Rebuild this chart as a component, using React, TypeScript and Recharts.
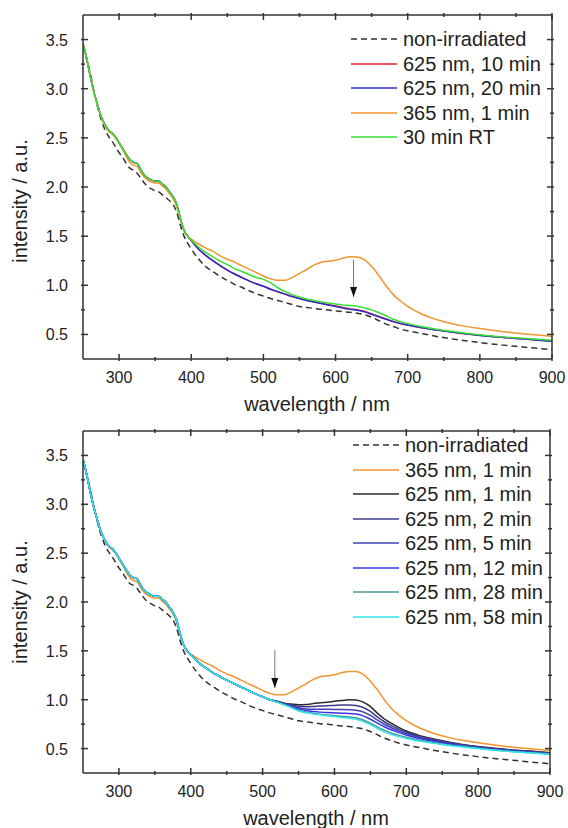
import { LineChart, Line, XAxis, YAxis, Legend, ReferenceLine, ReferenceDot } from "recharts"

const FONT = '"Liberation Sans", Arial, Helvetica, sans-serif'
const AXIS = "#333"

// wavelength grid (nm)
const wl = [
  250, 255, 260, 265, 270, 275, 280, 285, 290, 295, 300, 305, 310, 315, 320, 325, 330, 335, 340, 345,
  350, 355, 360, 365, 370, 375, 380, 385, 390, 395, 400,
  410, 420, 430, 440, 450, 460, 470, 480, 490, 500, 510, 520, 530, 540, 550, 560, 570, 580, 590, 600,
  610, 620, 630, 640, 650, 660, 670, 680, 690, 700,
  720, 740, 760, 780, 800, 820, 840, 860, 880, 900,
]

const xTicks = [300, 350, 400, 450, 500, 550, 600, 650, 700, 750, 800, 850, 900]
const yTicks = [0.5, 0.75, 1, 1.25, 1.5, 1.75, 2, 2.25, 2.5, 2.75, 3, 3.25, 3.5]

const nonIrradiated = [
  3.43, 3.3, 3.16, 2.98, 2.82, 2.69, 2.59, 2.52, 2.47, 2.41, 2.35, 2.3, 2.24, 2.19, 2.17, 2.14, 2.09, 2.04, 2.0, 1.98,
  1.96, 1.95, 1.92, 1.89, 1.86, 1.82, 1.74, 1.61, 1.5, 1.43, 1.37,
  1.27, 1.19, 1.14, 1.09, 1.05, 1.01, 0.98, 0.945, 0.915, 0.89, 0.865, 0.845, 0.825, 0.805, 0.785, 0.775, 0.765, 0.755, 0.748, 0.74,
  0.732, 0.725, 0.715, 0.7, 0.675, 0.64, 0.605, 0.58, 0.555, 0.537,
  0.508, 0.48, 0.456, 0.435, 0.417, 0.4, 0.386, 0.372, 0.358, 0.345,
]

// 250-395 nm, irradiated samples
const uvHead = [
  3.46, 3.31, 3.13, 2.97, 2.84, 2.72, 2.64, 2.58, 2.55, 2.51, 2.45, 2.39, 2.33, 2.28, 2.25, 2.24, 2.175, 2.12, 2.09, 2.07,
  2.06, 2.06, 2.03, 2.0, 1.95, 1.9, 1.82, 1.68, 1.56, 1.5,
]
const uv365Head = [
  3.46, 3.31, 3.13, 2.97, 2.84, 2.72, 2.63, 2.57, 2.54, 2.5, 2.44, 2.38, 2.31, 2.25, 2.22, 2.21, 2.15, 2.1, 2.07, 2.05,
  2.04, 2.04, 2.01, 1.98, 1.93, 1.88, 1.8, 1.67, 1.56, 1.5,
]

// 400-900 nm
const uv365Tail = [
  1.47, 1.42, 1.38, 1.345, 1.3, 1.265, 1.235, 1.2, 1.165, 1.13, 1.095, 1.065, 1.05, 1.05, 1.08, 1.12, 1.16, 1.205, 1.235, 1.245,
  1.255, 1.275, 1.29, 1.288, 1.26, 1.19, 1.1, 0.995, 0.905, 0.84, 0.785,
  0.705, 0.652, 0.612, 0.582, 0.56, 0.54, 0.522, 0.507, 0.494, 0.48,
]
const red10Tail = [
  1.455, 1.37, 1.305, 1.25, 1.2, 1.155, 1.115, 1.08, 1.045, 1.015, 0.99, 0.96, 0.935, 0.91, 0.885, 0.865, 0.847, 0.832, 0.818, 0.803,
  0.789, 0.775, 0.76, 0.75, 0.735, 0.708, 0.682, 0.657, 0.632, 0.612, 0.597,
  0.568, 0.546, 0.526, 0.507, 0.491, 0.477, 0.466, 0.455, 0.443, 0.431,
]
const blue20Tail = [
  1.455, 1.37, 1.305, 1.25, 1.2, 1.155, 1.115, 1.08, 1.045, 1.015, 0.99, 0.96, 0.935, 0.91, 0.885, 0.865, 0.845, 0.83, 0.815, 0.8,
  0.785, 0.77, 0.755, 0.745, 0.73, 0.705, 0.68, 0.655, 0.63, 0.61, 0.595,
  0.567, 0.545, 0.525, 0.506, 0.49, 0.476, 0.465, 0.454, 0.442, 0.43,
]
const rt30Tail = [
  1.46, 1.39, 1.335, 1.29, 1.245, 1.21, 1.17, 1.14, 1.11, 1.08, 1.06, 1.025, 0.975, 0.935, 0.905, 0.88, 0.86, 0.845, 0.83, 0.82,
  0.81, 0.8, 0.795, 0.787, 0.77, 0.75, 0.72, 0.69, 0.655, 0.63, 0.61,
  0.578, 0.553, 0.532, 0.513, 0.497, 0.482, 0.47, 0.46, 0.45, 0.44,
]

// bottom panel, 400-510 nm (all 625 nm curves coincide)
const fadeHead = [1.46, 1.385, 1.33, 1.28, 1.24, 1.2, 1.165, 1.13, 1.095, 1.06, 1.03, 1.0]
// 520-900 nm
const m1Tail = [
  0.985, 0.965, 0.955, 0.948, 0.95, 0.96, 0.97, 0.975, 0.985, 0.992, 1.0, 0.998, 0.975, 0.93, 0.86, 0.8, 0.755, 0.715, 0.68,
  0.63, 0.595, 0.565, 0.54, 0.52, 0.505, 0.49, 0.48, 0.47, 0.457,
]
const m2Tail = [
  0.983, 0.962, 0.945, 0.932, 0.927, 0.93, 0.935, 0.938, 0.942, 0.945, 0.945, 0.94, 0.92, 0.88, 0.822, 0.772, 0.732, 0.697, 0.667,
  0.622, 0.587, 0.56, 0.536, 0.517, 0.501, 0.487, 0.476, 0.465, 0.453,
]
const m5Tail = [
  0.98, 0.958, 0.937, 0.918, 0.906, 0.903, 0.903, 0.902, 0.901, 0.9, 0.898, 0.892, 0.875, 0.84, 0.79, 0.746, 0.711, 0.681, 0.654,
  0.611, 0.579, 0.554, 0.531, 0.513, 0.497, 0.483, 0.472, 0.462, 0.45,
]
const m12Tail = [
  0.978, 0.954, 0.93, 0.906, 0.89, 0.88, 0.873, 0.868, 0.865, 0.862, 0.86, 0.853, 0.835, 0.8, 0.76, 0.721, 0.69, 0.664, 0.639,
  0.601, 0.571, 0.547, 0.526, 0.508, 0.493, 0.479, 0.468, 0.458, 0.447,
]
const m28Tail = [
  0.976, 0.95, 0.923, 0.893, 0.874, 0.862, 0.852, 0.843, 0.836, 0.83, 0.825, 0.815, 0.792, 0.76, 0.72, 0.686, 0.656, 0.635, 0.615,
  0.583, 0.558, 0.537, 0.52, 0.503, 0.488, 0.474, 0.464, 0.454, 0.443,
]
const m58Tail = [
  0.975, 0.947, 0.917, 0.884, 0.866, 0.855, 0.845, 0.836, 0.827, 0.818, 0.81, 0.8, 0.776, 0.745, 0.705, 0.671, 0.643, 0.622, 0.603,
  0.575, 0.552, 0.532, 0.515, 0.5, 0.485, 0.472, 0.462, 0.452, 0.442,
]

const topOrder = ["non-irradiated", "625 nm, 10 min", "625 nm, 20 min", "365 nm, 1 min", "30 min RT"]
const bottomOrder = [
  "non-irradiated", "365 nm, 1 min", "625 nm, 1 min", "625 nm, 2 min", "625 nm, 5 min",
  "625 nm, 12 min", "625 nm, 28 min", "625 nm, 58 min",
]

const uv365 = [...uv365Head, ...uv365Tail]

const topData = wl.map((w, i) => ({
  wl: w,
  non: nonIrradiated[i],
  r10: [...uvHead, ...red10Tail][i],
  b20: [...uvHead, ...blue20Tail][i],
  uv: uv365[i],
  rt: [...uvHead, ...rt30Tail][i],
}))

const bottomData = wl.map((w, i) => ({
  wl: w,
  non: nonIrradiated[i],
  uv: uv365[i],
  m1: [...uvHead, ...fadeHead, ...m1Tail][i],
  m2: [...uvHead, ...fadeHead, ...m2Tail][i],
  m5: [...uvHead, ...fadeHead, ...m5Tail][i],
  m12: [...uvHead, ...fadeHead, ...m12Tail][i],
  m28: [...uvHead, ...fadeHead, ...m28Tail][i],
  m58: [...uvHead, ...fadeHead, ...m58Tail][i],
}))

const isMajorX = (v: number) => v % 100 === 0
const isMajorY = (v: number) => Math.abs(v * 2 - Math.round(v * 2)) < 1e-6

function BottomTick(p: any) {
  const major = isMajorX(p.payload.value)
  return (
    <g>
      <line x1={p.x} y1={p.y} x2={p.x} y2={p.y - (major ? 7 : 4)} stroke={AXIS} strokeWidth={1.5} />
      {major && (
        <text x={p.x} y={p.y + 22} textAnchor="middle" fontSize={16} fontFamily={FONT} fill="#222">
          {p.payload.value}
        </text>
      )}
    </g>
  )
}
function TopTick(p: any) {
  const major = isMajorX(p.payload.value)
  return <line x1={p.x} y1={p.y} x2={p.x} y2={p.y + (major ? 7 : 4)} stroke={AXIS} strokeWidth={1.5} />
}
function LeftTick(p: any) {
  const major = isMajorY(p.payload.value)
  return (
    <g>
      <line x1={p.x} y1={p.y} x2={p.x + (major ? 7 : 4)} y2={p.y} stroke={AXIS} strokeWidth={1.5} />
      {major && (
        <text x={p.x - 13} y={p.y + 6} textAnchor="end" fontSize={16} fontFamily={FONT} fill="#222">
          {p.payload.value.toFixed(1)}
        </text>
      )}
    </g>
  )
}
function RightTick(p: any) {
  const major = isMajorY(p.payload.value)
  return <line x1={p.x} y1={p.y} x2={p.x - (major ? 7 : 4)} y2={p.y} stroke={AXIS} strokeWidth={1.5} />
}

function LegendBox({ payload, order }: any) {
  const items = [...(payload || [])].sort((a: any, b: any) => order.indexOf(a.value) - order.indexOf(b.value))
  return (
    <div style={{ fontFamily: FONT, fontSize: 20, color: "#222" }}>
      {items.map((e: any) => (
        <div key={e.value} style={{ display: "flex", alignItems: "center", height: 24.5 }}>
          <svg width={46} height={4} style={{ display: "block" }}>
            <line
              x1={0}
              y1={2}
              x2={46}
              y2={2}
              stroke={e.color}
              strokeWidth={1.5}
              strokeDasharray={e.value === "non-irradiated" ? "6 4" : undefined}
            />
          </svg>
          <span style={{ marginLeft: 6, lineHeight: "20px", whiteSpace: "nowrap" }}>{e.value}</span>
        </div>
      ))}
    </div>
  )
}

function ArrowHead(p: any) {
  const { cx, cy } = p
  return <path d={`M${cx - 3.5},${cy - 10} L${cx + 3.5},${cy - 10} L${cx},${cy} Z`} fill="#111" />
}

const topArrow = { wl: 625, from: 1.26, to: 0.88 }
const bottomArrow = { wl: 517, from: 1.51, to: 1.12 }

function Frame(yTitleY: number, plotCenterX: number) {
  return [
    <XAxis
      key="xb"
      dataKey="wl"
      type="number"
      domain={[250, 900]}
      allowDataOverflow
      ticks={xTicks}
      interval={0}
      tick={(p: any) => <BottomTick {...p} />}
      tickLine={false}
      tickSize={0}
      height={55}
      axisLine={{ stroke: AXIS, strokeWidth: 1.5 }}
      label={{
        content: () => (
          <text x={plotCenterX} y={411} textAnchor="middle" fontSize={20} fontFamily={FONT} fill="#222">
            wavelength / nm
          </text>
        ),
      }}
    />,
    <XAxis
      key="xt"
      xAxisId="top"
      orientation="top"
      dataKey="wl"
      type="number"
      domain={[250, 900]}
      allowDataOverflow
      ticks={xTicks}
      interval={0}
      tick={(p: any) => <TopTick {...p} />}
      tickLine={false}
      tickSize={0}
      height={1}
      axisLine={{ stroke: AXIS, strokeWidth: 1.5 }}
    />,
    <YAxis
      key="yl"
      type="number"
      domain={[0.25, 3.75]}
      allowDataOverflow
      ticks={yTicks}
      interval={0}
      tick={(p: any) => <LeftTick {...p} />}
      tickLine={false}
      tickSize={0}
      width={83}
      axisLine={{ stroke: AXIS, strokeWidth: 1.5 }}
      label={{
        content: () => (
          <text
            x={27}
            y={yTitleY}
            transform={`rotate(-90 27 ${yTitleY})`}
            textAnchor="middle"
            fontSize={20}
            fontFamily={FONT}
            fill="#222"
          >
            intensity / a.u.
          </text>
        ),
      }}
    />,
    <YAxis
      key="yr"
      yAxisId="right"
      orientation="right"
      type="number"
      domain={[0.25, 3.75]}
      allowDataOverflow
      ticks={yTicks}
      interval={0}
      tick={(p: any) => <RightTick {...p} />}
      tickLine={false}
      tickSize={0}
      width={1}
      axisLine={{ stroke: AXIS, strokeWidth: 1.5 }}
    />,
  ]
}

function TopChart() {
  return (
    <LineChart width={568} height={414} data={topData} margin={{ top: 14, right: 15, bottom: 0, left: 0 }} style={{ display: "block" }}>
      {Frame(201, 317)}
      <Line dataKey="non" name="non-irradiated" stroke="#333" strokeWidth={1.5} strokeDasharray="6 4" dot={false} type="monotone" isAnimationActive={false} />
      <Line dataKey="r10" name="625 nm, 10 min" stroke="#e5212b" strokeWidth={1.5} dot={false} type="monotone" isAnimationActive={false} />
      <Line dataKey="b20" name="625 nm, 20 min" stroke="#2f2fc8" strokeWidth={1.5} dot={false} type="monotone" isAnimationActive={false} />
      <Line dataKey="uv" name="365 nm, 1 min" stroke="#f0952f" strokeWidth={1.5} dot={false} type="monotone" isAnimationActive={false} />
      <Line dataKey="rt" name="30 min RT" stroke="#35e035" strokeWidth={1.5} dot={false} type="monotone" isAnimationActive={false} />
      <ReferenceLine segment={[{ x: topArrow.wl, y: topArrow.from }, { x: topArrow.wl, y: topArrow.to }]} stroke="#777" strokeWidth={1} />
      <ReferenceDot x={topArrow.wl} y={topArrow.to} r={0} shape={(p: any) => <ArrowHead {...p} />} />
      <Legend layout="vertical" align="center" verticalAlign="middle" content={(p: any) => <LegendBox {...p} order={topOrder} />} wrapperStyle={{ top: 27, left: 351, width: "auto" }} />
    </LineChart>
  )
}

function BottomChart() {
  return (
    <LineChart width={568} height={414} data={bottomData} margin={{ top: 16, right: 17, bottom: 0, left: 0 }} style={{ display: "block" }}>
      {Frame(188, 316)}
      <Line dataKey="non" name="non-irradiated" stroke="#333" strokeWidth={1.5} strokeDasharray="6 4" dot={false} type="monotone" isAnimationActive={false} />
      <Line dataKey="uv" name="365 nm, 1 min" stroke="#f0952f" strokeWidth={1.5} dot={false} type="monotone" isAnimationActive={false} />
      <Line dataKey="m1" name="625 nm, 1 min" stroke="#2a2a2a" strokeWidth={1.5} dot={false} type="monotone" isAnimationActive={false} />
      <Line dataKey="m2" name="625 nm, 2 min" stroke="#3c3c8c" strokeWidth={1.5} dot={false} type="monotone" isAnimationActive={false} />
      <Line dataKey="m5" name="625 nm, 5 min" stroke="#4343b0" strokeWidth={1.5} dot={false} type="monotone" isAnimationActive={false} />
      <Line dataKey="m12" name="625 nm, 12 min" stroke="#3434e6" strokeWidth={1.5} dot={false} type="monotone" isAnimationActive={false} />
      <Line dataKey="m28" name="625 nm, 28 min" stroke="#4b9595" strokeWidth={1.5} dot={false} type="monotone" isAnimationActive={false} />
      <Line dataKey="m58" name="625 nm, 58 min" stroke="#2ee6ea" strokeWidth={1.5} dot={false} type="monotone" isAnimationActive={false} />
      <ReferenceLine segment={[{ x: bottomArrow.wl, y: bottomArrow.from }, { x: bottomArrow.wl, y: bottomArrow.to }]} stroke="#777" strokeWidth={1} />
      <ReferenceDot x={bottomArrow.wl} y={bottomArrow.to} r={0} shape={(p: any) => <ArrowHead {...p} />} />
      <Legend layout="vertical" align="center" verticalAlign="middle" content={(p: any) => <LegendBox {...p} order={bottomOrder} />} wrapperStyle={{ top: 19, left: 353, width: "auto" }} />
    </LineChart>
  )
}

export default function App() {
  return (
    <div style={{ position: "absolute", left: 0, top: 0, width: 568, height: 828, background: "#fff" }}>
      <TopChart />
      <BottomChart />
    </div>
  )
}
